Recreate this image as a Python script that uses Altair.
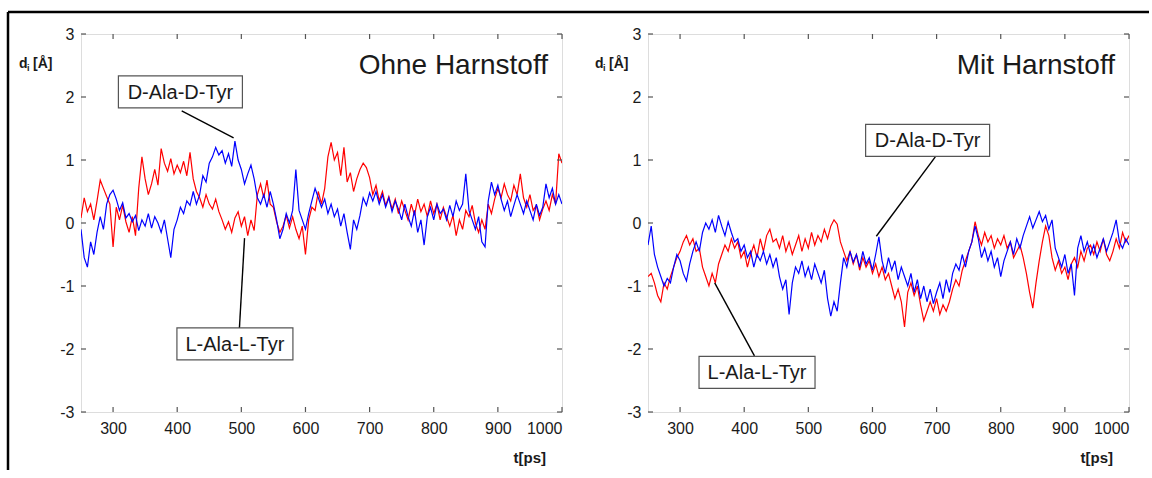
import altair as alt
import pandas as pd

# time axis (ps), sampled every 5 ps
t_ps = list(range(250, 1001, 5))

# d_i [Å] without urea: D-Ala-D-Tyr (blue) and L-Ala-L-Tyr (red)
ohne_d = [
    -0.10, -0.55, -0.70, -0.30, -0.50, -0.15, 0.10, -0.10, 0.30, 0.45,
    0.52, 0.38, 0.20, 0.32, 0.08, 0.15, 0.02, 0.12, -0.12, 0.05,
    -0.05, 0.15, -0.08, 0.10, 0.00, -0.15, 0.05, -0.25, -0.55, -0.10,
    0.05, 0.25, 0.15, 0.35, 0.28, 0.50, 0.30, 0.45, 0.75, 0.65,
    0.95, 1.05, 1.20, 1.08, 1.15, 0.95, 1.10, 0.90, 1.30, 1.00,
    0.85, 0.62, 0.78, 0.92, 0.70, 0.40, 0.30, 0.45, 0.25, 0.50,
    0.30, 0.05, -0.25, -0.10, 0.15, 0.00, 0.20, 0.85, 0.20, 0.05,
    -0.10, 0.15, 0.35, 0.55, 0.40, 0.25, 0.38, 0.15, 0.30, 0.10,
    0.22, -0.05, 0.15, -0.15, -0.42, 0.05, -0.10, 0.12, 0.40, 0.28,
    0.48, 0.35, 0.50, 0.30, 0.45, 0.25, 0.40, 0.18, 0.35, 0.22,
    0.05, 0.30, 0.10, -0.05, 0.20, -0.15, 0.05, -0.35, 0.10, 0.25,
    0.05, 0.30, 0.15, 0.22, 0.05, 0.28, 0.10, 0.35, 0.20, 0.30,
    0.78, 0.20, 0.05, -0.10, 0.10, -0.30, -0.38, 0.35, 0.65, 0.45,
    0.60, 0.38, 0.20, 0.35, 0.10, 0.28, 0.45, 0.30, 0.15, 0.35,
    0.20, 0.05, 0.30, 0.12, 0.25, 0.62, 0.40, 0.55, 0.30, 0.45,
    0.30,
]
ohne_l = [
    0.08, 0.40, 0.18, 0.30, 0.05, 0.35, 0.68, 0.55, 0.42, 0.30,
    -0.38, 0.25, 0.05, 0.28, 0.02, -0.15, 0.10, -0.20, 0.55, 1.05,
    0.70, 0.45, 0.62, 0.85, 0.60, 1.18, 0.95, 0.82, 1.02, 0.78,
    0.92, 0.80, 0.98, 0.75, 1.12, 0.70, 0.50, 0.40, 0.25, 0.45,
    0.30, 0.22, 0.38, 0.18, 0.05, -0.10, 0.02, -0.15, 0.08, 0.18,
    -0.05, 0.10, -0.20, 0.05, -0.12, 0.45, 0.62, 0.40, 0.68, 0.30,
    0.25, 0.02, -0.15, -0.05, 0.12, -0.08, 0.10, -0.10, -0.25, -0.05,
    -0.50, 0.05, 0.25, 0.20, 0.50, 0.30, 0.55, 1.05, 1.28, 1.00,
    1.12, 0.75, 1.20, 0.65, 0.80, 0.50, 0.70, 0.85, 0.95, 0.88,
    0.72, 0.45, 0.60, 0.35, 0.50, 0.28, 0.42, 0.22, 0.38, 0.15,
    0.35, 0.20, 0.05, 0.30, 0.12, 0.38, 0.18, 0.30, 0.10, 0.35,
    0.15, 0.30, 0.05, 0.25, 0.10, -0.05, 0.12, -0.20, 0.05, -0.10,
    0.20, 0.10, 0.28, 0.00, -0.15, 0.05, -0.10, 0.30, 0.15, 0.38,
    0.55, 0.40, 0.62, 0.45, 0.35, 0.60, 0.45, 0.78, 0.40, 0.25,
    0.45, 0.20, 0.28, 0.05, 0.22, 0.35, 0.20, 0.45, 0.30, 1.10,
    0.95,
]

# d_i [Å] with urea
mit_d = [
    -0.35, -0.05, -0.50, -0.70, -0.85, -1.00, -0.88, -0.95, -0.70, -0.50,
    -0.60, -0.80, -0.92, -0.65, -0.45, -0.30, -0.45, -0.15, 0.00, -0.10,
    0.05, -0.15, 0.12, -0.05, -0.20, 0.02, -0.15, -0.30, -0.25, -0.45,
    -0.35, -0.55, -0.45, -0.70, -0.50, -0.60, -0.45, -0.65, -0.50, -0.70,
    -0.55, -0.85, -1.05, -0.90, -1.45, -0.95, -0.70, -0.80, -0.60, -0.85,
    -0.70, -0.90, -0.65, -0.80, -0.95, -0.75, -1.20, -1.48, -1.25, -1.40,
    -0.95, -0.55, -0.70, -0.45, -0.62, -0.50, -0.70, -0.45, -0.65, -0.55,
    -0.75, -0.50, -0.22, -0.60, -0.80, -0.55, -0.75, -0.60, -0.90, -0.70,
    -0.85, -1.00, -0.80, -1.10, -0.90, -1.20, -1.00, -1.25, -1.05, -1.28,
    -1.10, -0.95, -1.20, -0.90, -1.10, -0.80, -0.65, -0.75, -0.50, -0.70,
    -0.45, -0.30, -0.05, -0.25, -0.55, -0.40, -0.60, -0.45, -0.70, -0.55,
    -0.85, -0.60, -0.45, -0.30, -0.50, -0.25, -0.40, -0.20, -0.05, 0.10,
    -0.08, 0.05, 0.18, 0.02, 0.12, -0.10, 0.05, -0.40, -0.55, -0.70,
    -0.50, -0.80, -0.65, -1.15, -0.40, -0.20, -0.45, -0.30, -0.50, -0.35,
    -0.55, -0.40, -0.25, -0.45, -0.30, -0.15, 0.05, -0.30, -0.40, -0.25,
    -0.35,
]
mit_l = [
    -0.85, -0.80, -0.95, -1.15, -1.25, -0.95, -1.05, -0.85, -0.70, -0.55,
    -0.45, -0.30, -0.20, -0.35, -0.25, -0.45, -0.40, -0.70, -0.85, -1.00,
    -0.80, -0.95, -0.65, -0.50, -0.35, -0.45, -0.25, -0.40, -0.30, -0.55,
    -0.45, -0.70, -0.50, -0.35, -0.55, -0.25, -0.45, -0.20, -0.10, -0.30,
    -0.25, -0.40, -0.20, -0.45, -0.30, -0.50, -0.35, -0.20, -0.45, -0.25,
    -0.40, -0.15, -0.35, -0.20, -0.30, -0.10, -0.25, -0.05, 0.05, -0.02,
    -0.30, -0.45, -0.60, -0.45, -0.65, -0.50, -0.75, -0.55, -0.70, -0.60,
    -0.80, -0.65, -0.85, -0.70, -0.90, -0.80, -1.00, -1.20, -1.05, -1.25,
    -1.65, -1.10, -0.95, -1.15, -1.00, -1.30, -1.55, -1.40, -1.25, -1.40,
    -1.20, -1.45, -1.30, -1.40, -1.25, -1.05, -0.90, -1.00, -0.75, -0.60,
    -0.45, -0.30, 0.02, -0.20, -0.35, -0.15, -0.30, -0.20, -0.40, -0.25,
    -0.35, -0.20, -0.40, -0.30, -0.55, -0.45, -0.35, -0.55, -0.80, -1.10,
    -1.35, -0.95, -0.60, -0.30, -0.05, -0.20, -0.55, -0.75, -0.60, -0.80,
    -0.70, -0.90, -0.65, -0.55, -0.70, -0.45, -0.60, -0.40, -0.35, -0.50,
    -0.30, -0.45, -0.25, -0.50, -0.60, -0.45, -0.25, -0.40, -0.15, -0.30,
    -0.20,
]

x_ticks = [300, 400, 500, 600, 700, 800, 900, 1000]
y_ticks = [-3, -2, -1, 0, 1, 2, 3]

# labelled boxes (centre in data units) and their leader lines (from, to)
note_labels = ["D-Ala-D-Tyr", "L-Ala-L-Tyr"]
note_box_w = [124, 116]
ohne_box_t = [405, 490]
ohne_box_d = [2.08, -1.92]
ohne_lead = [(407, 1.78, 488, 1.35), (505, -0.24, 497, -1.67)]
mit_box_t = [686, 420]
mit_box_d = [1.31, -2.37]
mit_lead = [(698, 1.05, 606, -0.21), (354, -0.95, 416, -2.11)]

W, H = 481, 378
FONT = "Liberation Sans"
GRAY = "#555555"
TXT = "#1a1a1a"

x_scale = alt.Scale(domain=[250, 1000], nice=False, zero=False)
y_scale = alt.Scale(domain=[-3, 3], nice=False, zero=False)

# one shared axis definition per channel, used by every layer so they merge;
# labels are plain number strings (ASCII hyphen for negatives)
x_axis = alt.Axis(values=x_ticks, ticks=False, domain=False, grid=False,
                  title=None, labelFontSize=16, labelPadding=8,
                  labelColor=TXT, labelFont=FONT, labelExpr="'' + datum.value")
y_axis = alt.Axis(values=y_ticks, ticks=False, domain=False, grid=False,
                  title=None, labelFontSize=16, labelPadding=7,
                  labelColor=TXT, labelFont=FONT, labelExpr="'' + datum.value")


def X(field):
    return alt.X(field, scale=x_scale, axis=x_axis)


def Y(field):
    return alt.Y(field, scale=y_scale, axis=y_axis)


def trace(vals, color):
    df = pd.DataFrame({"t": t_ps, "d": vals})
    return alt.Chart(df).mark_line(color=color, strokeWidth=1.2, clip=True).encode(
        x=X("t:Q"), y=Y("d:Q"))


def text_at(s, x, y, size, bold=False, align="left"):
    return alt.Chart(pd.DataFrame({"s": [s]})).mark_text(
        align=align, baseline="alphabetic", fontSize=size, font=FONT,
        fontWeight="bold" if bold else "normal", color=TXT,
    ).encode(text="s:N", x=alt.value(x), y=alt.value(y))


def make_panel(d_vals, l_vals, heading, box_t, box_d, leads, ylab_x, frame=False):
    layers = [trace(l_vals, "#ff0000"), trace(d_vals, "#0000ff")]

    if frame:
        fr = pd.DataFrame({"k": [0]})
        layers.append(alt.Chart(fr).mark_rule(color="black", strokeWidth=2.5).encode(
            x=alt.value(-73), x2=alt.value(-73), y=alt.value(-22), y2=alt.value(436)))
        layers.append(alt.Chart(fr).mark_rule(color="black", strokeWidth=2.5).encode(
            x=alt.value(-73), x2=alt.value(1068), y=alt.value(-22), y2=alt.value(-22)))

    # inward ticks on all four sides
    xt = pd.DataFrame({"t": x_ticks})
    yt = pd.DataFrame({"d": y_ticks})
    for y0, y1 in [(H, H - 5), (0, 5)]:
        layers.append(alt.Chart(xt).mark_rule(color=GRAY, strokeWidth=1.2).encode(
            x=X("t:Q"), y=alt.value(y0), y2=alt.value(y1)))
    for x0, x1 in [(0, 5), (W - 5, W)]:
        layers.append(alt.Chart(yt).mark_rule(color=GRAY, strokeWidth=1.2).encode(
            y=Y("d:Q"), x=alt.value(x0), x2=alt.value(x1)))

    # leader lines and labelled boxes
    ld = pd.DataFrame(leads, columns=["t1", "d1", "t2", "d2"])
    layers.append(alt.Chart(ld).mark_rule(color="black", strokeWidth=1.4).encode(
        x=X("t1:Q"), y=Y("d1:Q"), x2="t2:Q", y2="d2:Q"))
    for lab, bw, bt, bd in zip(note_labels, note_box_w, box_t, box_d):
        bdf = pd.DataFrame({"t": [bt], "d": [bd], "s": [lab]})
        layers.append(alt.Chart(bdf).mark_rect(
            width=bw, height=32, fill="white", stroke=GRAY, strokeWidth=1.2).encode(
            x=X("t:Q"), y=Y("d:Q")))
        layers.append(alt.Chart(bdf).mark_text(
            fontSize=20, font=FONT, color=TXT, align="center", baseline="middle", dy=1).encode(
            x=X("t:Q"), y=Y("d:Q"), text="s:N"))

    # heading, y-axis label with subscript, x-axis label
    layers.append(text_at(heading, W - 14, 40, 28, align="right"))
    layers.append(text_at("d", ylab_x, 34, 14, bold=True))
    layers.append(text_at("i", ylab_x + 8, 37, 9, bold=True))
    layers.append(text_at("[Å]", ylab_x + 14, 34, 14, bold=True))
    layers.append(text_at("t[ps]", 465, 429, 15, bold=True, align="right"))

    return alt.layer(*layers).properties(width=W, height=H)


left = make_panel(ohne_d, ohne_l, "Ohne Harnstoff", ohne_box_t, ohne_box_d, ohne_lead, -62, frame=True)
right = make_panel(mit_d, mit_l, "Mit Harnstoff", mit_box_t, mit_box_d, mit_lead, -53)

chart = alt.hconcat(left, right, spacing=86, bounds="flush").properties(
    padding={"left": 6, "top": 10, "right": 0, "bottom": 0},
    background="white",
).configure_view(stroke=GRAY, strokeWidth=1.2).configure(font=FONT)

chart.save("out.html", embed_options={"renderer": "svg", "actions": False})
